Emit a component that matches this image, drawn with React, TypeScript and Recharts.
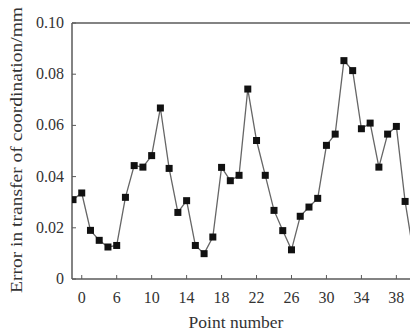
import { LineChart, Line, XAxis, YAxis, ReferenceLine } from 'recharts'

const pointNumbers = [
  1, 2, 3, 4, 5, 6, 7, 8, 9, 10, 11, 12, 13, 14, 15, 16, 17, 18, 19, 20,
  21, 22, 23, 24, 25, 26, 27, 28, 29, 30, 31, 32, 33, 34, 35, 36, 37, 38, 39, 40,
]
const errors = [
  0.031, 0.0336, 0.019, 0.0151, 0.0125, 0.0131, 0.0319, 0.0443, 0.0437, 0.0482,
  0.0668, 0.0432, 0.026, 0.0306, 0.0131, 0.0099, 0.0164, 0.0436, 0.0384, 0.0405,
  0.0742, 0.0541, 0.0405, 0.0268, 0.0189, 0.0114, 0.0245, 0.0281, 0.0315, 0.0522,
  0.0566, 0.0853, 0.0814, 0.0587, 0.0609, 0.0437, 0.0566, 0.0596, 0.0303, 0.009,
]
// first tick sits at point 2 but is printed as 0 in the original figure
const xTicks = [2, 6, 10, 14, 18, 22, 26, 30, 34, 38]
const xTickLabels = ['0', '6', '10', '14', '18', '22', '26', '30', '34', '38']
const yTicks = [0, 0.02, 0.04, 0.06, 0.08, 0.1]
const yTickLabels = ['0', '0.02', '0.04', '0.06', '0.08', '0.10']

const data = pointNumbers.map((n, i) => ({ n, err: errors[i] }))

const font = '"Liberation Serif", "DejaVu Serif", serif'
const axisColor = '#5a5a5a'
const textColor = '#333'

function XTick(props: any) {
  const { x, y, payload } = props
  const i = xTicks.indexOf(payload.value)
  return (
    <g>
      <line x1={x} x2={x} y1={y - 13} y2={y - 17} stroke={axisColor} strokeWidth={1} />
      <text x={x} y={y + 11} textAnchor="middle" fontFamily={font} fontSize={16} fill={textColor}>
        {i >= 0 ? xTickLabels[i] : payload.value}
      </text>
    </g>
  )
}

function YTick(props: any) {
  const { x, y, payload } = props
  const i = yTicks.indexOf(payload.value)
  return (
    <g>
      <line x1={x + 8} x2={x + 12} y1={y} y2={y} stroke={axisColor} strokeWidth={1} />
      <text x={x} y={y + 5} textAnchor="end" fontFamily={font} fontSize={16} fill={textColor}>
        {i >= 0 ? yTickLabels[i] : payload.value}
      </text>
    </g>
  )
}

function Square(props: any) {
  const { cx, cy } = props
  if (cx == null || cy == null || cx > 410) return null
  return <rect x={cx - 3.5} y={cy - 3.5} width={7} height={7} fill="#111" />
}

export default function App() {
  return (
    <div style={{ width: 410, height: 332, background: '#fff', position: 'relative' }}>
      <style>{'body{margin:0}'}</style>
      <LineChart width={410} height={332} data={data} margin={{ top: 23, right: 0, bottom: 23, left: 0 }}>
        <XAxis
          dataKey="n"
          type="number"
          domain={[0.886, 39.56]}
          allowDataOverflow
          ticks={xTicks}
          interval={0}
          tickSize={0}
          tickMargin={13}
          tick={<XTick />}
          stroke={axisColor}
          strokeWidth={1.5}
        />
        <YAxis
          type="number"
          domain={[0, 0.1]}
          ticks={yTicks}
          interval={0}
          width={72}
          tickSize={0}
          tickMargin={8}
          tick={<YTick />}
          stroke={axisColor}
          strokeWidth={1.5}
        />
        <ReferenceLine y={0.1} stroke={axisColor} strokeWidth={1.5} />
        <Line
          dataKey="err"
          stroke="#666"
          strokeWidth={1.3}
          dot={<Square />}
          activeDot={false}
          isAnimationActive={false}
        />
      </LineChart>
      <svg width={410} height={332} style={{ position: 'absolute', left: 0, top: 0, pointerEvents: 'none' }}>
        <text x={236} y={328} textAnchor="middle" fontFamily={font} fontSize={17.5} fill={textColor}>
          Point number
        </text>
        <text
          transform="translate(22,150) rotate(-90)"
          textAnchor="middle"
          fontFamily={font}
          fontSize={17}
          fill={textColor}
          textLength={286}
          lengthAdjust="spacingAndGlyphs"
        >
          Error in transfer of coordination/mm
        </text>
      </svg>
    </div>
  )
}
